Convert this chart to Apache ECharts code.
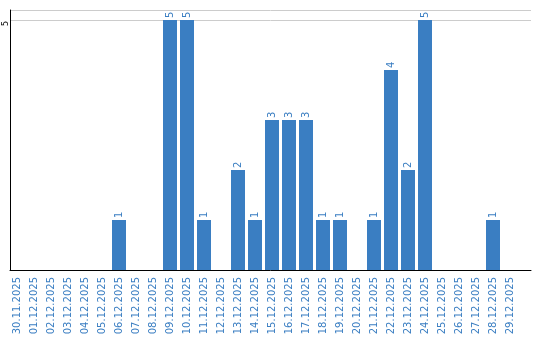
<!DOCTYPE html>
<html>
<head>
<meta charset="utf-8">
<script src="https://cdn.jsdelivr.net/npm/echarts@6/dist/echarts.min.js"></script>
<style>html,body{margin:0;padding:0;background:#fff}#c{width:540px;height:340px}</style>
</head>
<body>
<div id="c"></div>
<script>
var categories = ["30.11.2025","01.12.2025","02.12.2025","03.12.2025","04.12.2025","05.12.2025","06.12.2025","07.12.2025","08.12.2025","09.12.2025","10.12.2025","11.12.2025","12.12.2025","13.12.2025","14.12.2025","15.12.2025","16.12.2025","17.12.2025","18.12.2025","19.12.2025","20.12.2025","21.12.2025","22.12.2025","23.12.2025","24.12.2025","25.12.2025","26.12.2025","27.12.2025","28.12.2025","29.12.2025"];
var values = [null,null,null,null,null,null,1,null,null,5,5,1,null,2,1,3,3,3,1,1,null,1,4,2,5,null,null,null,1,null];
var yTicks = [5];

var blue = '#3a7ec2';
var chart = echarts.init(document.getElementById('c'), null, {renderer:'canvas'});
chart.setOption({
  animation: false,
  grid: [
    {left: 8.5, width: 510, top: 10, bottom: 70, containLabel: false},
    {left: 10, right: 9, top: 10, bottom: 70, containLabel: false}
  ],
  xAxis: [
    {type: 'category', gridIndex: 0, data: categories,
     axisLine: {show: false}, axisTick: {show: false},
     axisLabel: {interval: 0, rotate: 90, margin: 7, color: blue, fontFamily: 'DejaVu Sans', fontSize: 10}},
    {type: 'value', gridIndex: 1, min: 0, max: 1, show: true,
     axisLine: {show: true, onZero: false, lineStyle: {color: '#000', width: 1}},
     axisTick: {show: false}, axisLabel: {show: false}, splitLine: {show: false}}
  ],
  yAxis: [
    {type: 'value', gridIndex: 0, min: 0, max: 5.2, show: false},
    {type: 'value', gridIndex: 1, min: 0, max: 5.2, interval: 5,
     axisLine: {show: true, lineStyle: {color: '#000', width: 1}},
     axisTick: {show: false},
     splitLine: {show: true, lineStyle: {color: '#cccccc', width: 1}},
     axisLabel: {rotate: 90, margin: 0, padding: [0, 7, 0, 0],
       color: '#000', fontFamily: 'DejaVu Sans', fontSize: 8,
       formatter: function(v){ return yTicks.indexOf(v) >= 0 ? String(v) : ''; }}}
  ],
  series: [{
    type: 'bar', xAxisIndex: 0, yAxisIndex: 0,
    data: values, barWidth: 14,
    itemStyle: {color: blue},
    label: {show: true, position: 'top', rotate: 90, distance: 2, align: 'left', verticalAlign: 'middle',
      color: blue, fontFamily: 'DejaVu Sans', fontSize: 10}
  }]
});
</script>
</body>
</html>
